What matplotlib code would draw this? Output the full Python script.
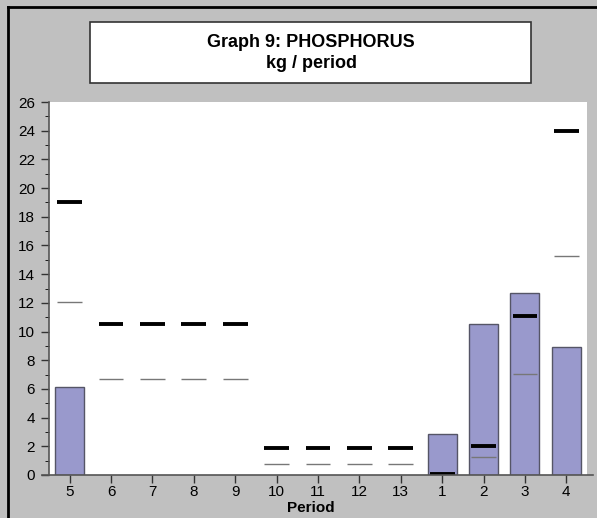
import numpy as np
import matplotlib
matplotlib.use('Agg')
import matplotlib.pyplot as plt
from matplotlib.lines import Line2D
from matplotlib.patches import Rectangle

plt.rcParams['font.family'] = ['Liberation Sans', 'DejaVu Sans']

periods = ['5', '6', '7', '8', '9', '10', '11', '12', '13', '1', '2', '3', '4']
# bars (actual load), thick marks (upper limit), thin marks (lower limit)
actual = [6.1, np.nan, np.nan, np.nan, np.nan, np.nan, np.nan, np.nan, np.nan, 2.85, 10.5, 12.7, 8.95]
upper = [19.0, 10.5, 10.5, 10.5, 10.5, 1.9, 1.85, 1.85, 1.85, 0.1, 2.05, 11.05, 24.0]
lower = [12.05, 6.7, 6.7, 6.7, 6.7, 0.78, 0.75, 0.75, 0.75, np.nan, 1.28, 7.05, 15.25]

fig = plt.figure(figsize=(5.97, 5.18), dpi=100)
fig.patch.set_facecolor('#c0c0c0')

ax = fig.add_axes([49/597, 43/518, 538/597, 373/518])
ax.set_facecolor('white')

x = np.arange(len(periods))
bw = 0.7
ax.bar(x, actual, bw, color='#9999cc', edgecolor='#555566', linewidth=1.0, zorder=2)
ax.hlines(lower, x - bw/2 + 0.05, x + bw/2 - 0.05, color='#777777', linewidth=1.0, zorder=3)
ax.hlines(upper, x - bw/2 + 0.05, x + bw/2 - 0.05, color='black', linewidth=2.8, zorder=4)

ax.set_xlim(-0.5, 12.5)
ax.set_ylim(0, 26)
ax.set_yticks(np.arange(0, 27, 2))
ax.set_yticks(np.arange(0, 27, 1), minor=True)
ax.set_xticks(x)
ax.set_xticklabels(periods)
ax.tick_params(axis='both', labelsize=11, color='#333333', width=1.0)
ax.tick_params(axis='y', which='major', length=6, pad=4)
ax.tick_params(axis='y', which='minor', length=3)
ax.tick_params(axis='x', length=6, pad=1)
for s in ['top', 'right', 'bottom']:
    ax.spines[s].set_visible(False)
ax.spines['left'].set_color('#555555')
ax.spines['left'].set_linewidth(1.2)

# extended bottom axis line
fig.add_artist(Line2D([42/597, 593/597], [43/518, 43/518], color='#555555', linewidth=1.2))

fig.text(311/597, 1 - 508/518, 'Period', ha='center', va='center', fontsize=11, fontweight='bold')

# title box
fig.add_artist(Rectangle((90/597, 1 - 83/518), 441/597, 61/518, facecolor='white',
                         edgecolor='#333333', linewidth=1.2))
fig.text(311/597, 1 - 42/518, 'Graph 9: PHOSPHORUS', ha='center', va='center', fontsize=13, fontweight='bold')
fig.text(311/597, 1 - 63/518, 'kg / period', ha='center', va='center', fontsize=13, fontweight='bold')

# outer frame
fig.add_artist(Line2D([8/597, 8/597], [0, 1 - 7/518], color='black', linewidth=2))
fig.add_artist(Line2D([8/597, 1], [1 - 7/518, 1 - 7/518], color='black', linewidth=2))

fig.savefig('out.png', dpi=100, facecolor=fig.get_facecolor())
